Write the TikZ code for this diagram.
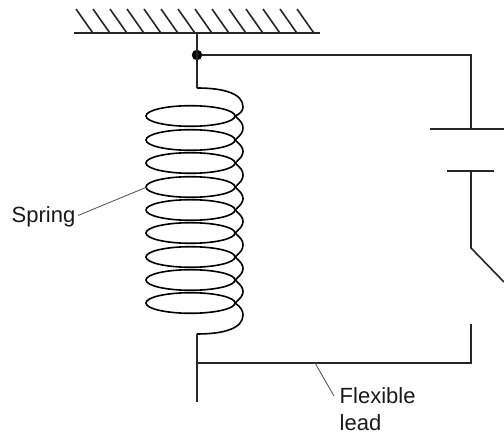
\documentclass[tikz,border=0pt]{standalone}
\usepackage{fontspec}
\setmainfont{Liberation Sans}
\tikzset{
  wire/.style={line width=1.6pt,color=black!85},
  coil/.style={line width=1.6pt,color=black},
  leader/.style={line width=0.8pt,color=black!70},
  lab/.style={inner sep=0pt,anchor=base west,font=\fontsize{22pt}{27pt}\selectfont,text=black!90}
}
\begin{document}
\begin{tikzpicture}[x=1pt,y=-1pt]
\useasboundingbox (0,0) rectangle (504,435);
\coordinate (ceilL) at (74,33);
\coordinate (ceilR) at (320,33);
\coordinate (top) at (197,33);
\node[circle,fill=black,inner sep=0pt,minimum size=10.5pt] (dot) at (197,55) {};
\coordinate (coilT) at (197,88);
\coordinate (coilB) at (197,334);
\coordinate (end) at (197,402);
\coordinate (junc) at (197,363);
\coordinate (cornerTR) at (471,55);
\coordinate (plateA) at (471,129);
\coordinate (plateB) at (471,171);
\coordinate (hinge) at (471,248);
\coordinate (blade) at (504,282);
\coordinate (post) at (471,324);
\coordinate (cornerBR) at (471,363);
\draw[wire] (ceilL) -- (ceilR);
\foreach \i in {0,...,13}
  \draw[wire] ({76+17*\i},9) -- ({92.5+17*\i},32.5);
\draw[wire] (top) -- (coilT);
\draw[wire] (dot) -- (cornerTR) -- (plateA);
\draw[wire] (430,129) -- (504,129);
\draw[wire] (447,171) -- (494,171);
\draw[wire] (plateB) -- (hinge) -- (blade);
\draw[wire] (post) -- (cornerBR) -- (junc);
\draw[wire] (coilB) -- (end);
% coil
\foreach \y in {116,140,163,187,210,233,257,280,303}
  \draw[coil] (190.5,\y) ellipse [x radius=44.5,y radius=10.3];
\draw[coil] (coilT) .. controls (225,88) and (243,94) .. (243,107) .. controls (243,111) and (240,114) .. (235,116);
\foreach \a/\b in {116/140,140/163,163/187,187/210,210/233,233/257,257/280,280/303}
  \draw[coil] (235,\a) .. controls (241,\a+5) and (243,\a+8) .. (243,{(\a+\b)/2}) .. controls (243,\b-8) and (241,\b-5) .. (235,\b);
\draw[coil] (235,303) .. controls (241,307) and (243,311) .. (243,315) .. controls (243,328) and (225,334) .. (coilB);
% labels
\node[lab] (spring) at (11.5,222.7) {Spring};
\coordinate (sl) at (78,215.5);
\coordinate (sr) at (147,187);
\draw[leader] (sl) -- (sr);
\node[lab,align=left] (flex) at (339.5,404) {Flexible};
\node[lab] (lead) at (339.5,431) {lead};
\coordinate (fl) at (315,363);
\coordinate (fr) at (334,396);
\draw[leader] (fl) -- (fr);
\end{tikzpicture}
\end{document}
